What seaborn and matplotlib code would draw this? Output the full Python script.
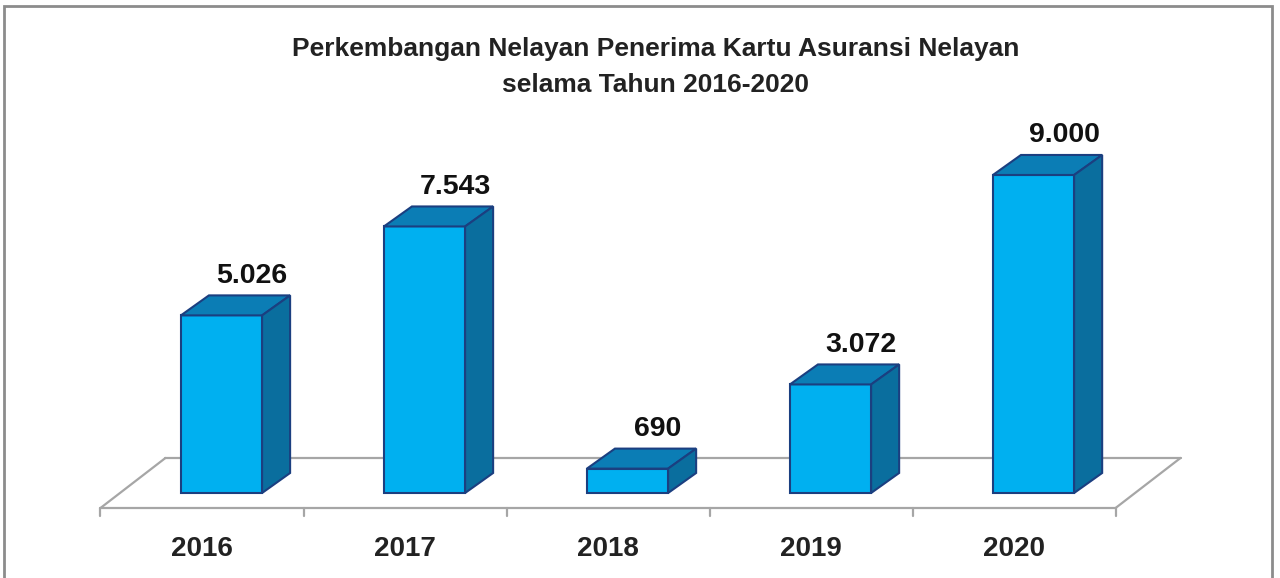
import matplotlib
matplotlib.use("Agg")
import matplotlib.pyplot as plt
from matplotlib.patches import Polygon, Rectangle
import seaborn as sns
import pandas as pd
import numpy as np

sns.set_theme(style="white")
plt.rcParams['font.family'] = ['Liberation Sans', 'DejaVu Sans']

# data
years = ["2016", "2017", "2018", "2019", "2020"]
values = [5026, 7543, 690, 3072, 9000]
labels = ["5.026", "7.543", "690", "3.072", "9.000"]

df = pd.DataFrame({"Tahun": years, "Jumlah": values})

# 3d look (in data units)
bar_w = 0.40
dx, dy = 0.138, 566          # bar depth
fdx, fdy = 0.32, 1416        # floor depth
front_y = -425               # floor front edge
front_dx = -0.096

front_col = "#00B0F0"
side_col = "#0A6E9E"
top_col = "#0B7DB5"
edge_col = "#1B3F80"

fig = plt.figure(figsize=(12.8, 5.78), dpi=100)
ax = fig.add_axes([0, 0, 1, 1])

n = len(years)
# floor
xl = -0.5 + front_dx
xr = n - 0.5 + front_dx
floor_kw = dict(color="#A6A6A6", lw=1.6, zorder=1)
ax.plot([xl, xr], [front_y, front_y], **floor_kw)
ax.plot([xl + fdx, xr + fdx], [front_y + fdy, front_y + fdy], **floor_kw)
ax.plot([xl, xl + fdx], [front_y, front_y + fdy], **floor_kw)
ax.plot([xr, xr + fdx], [front_y, front_y + fdy], **floor_kw)
for k in range(n + 1):
    tx = xl + k
    ax.plot([tx, tx], [front_y, front_y - 230], **floor_kw)

# front faces
sns.barplot(data=df, x="Tahun", y="Jumlah", color=front_col, width=bar_w,
            edgecolor=edge_col, linewidth=1.5, saturation=1, ax=ax, zorder=3)
ax.set_xlim(-1.091, 5.214)
ax.set_ylim(-2406, 13952)
ax.axis("off")

for i, v in enumerate(values):
    x0, x1 = i - bar_w / 2, i + bar_w / 2
    top = Polygon([(x0, v), (x1, v), (x1 + dx, v + dy), (x0 + dx, v + dy)],
                  closed=True, facecolor=top_col, edgecolor=edge_col, lw=1.5, zorder=3)
    side = Polygon([(x1, 0), (x1 + dx, dy), (x1 + dx, v + dy), (x1, v)],
                   closed=True, facecolor=side_col, edgecolor=edge_col, lw=1.5, zorder=3)
    ax.add_patch(top)
    ax.add_patch(side)
    ax.text(i + 0.15, v + dy + 560, labels[i], ha="center", va="center",
            fontsize=20.5, fontweight="bold", color="#111111", zorder=4)
    ax.text(i + front_dx, front_y - 1150, years[i], ha="center", va="center",
            fontsize=20, fontweight="bold", color="#222222")

fig.text(0.512, 0.915, "Perkembangan Nelayan Penerima Kartu Asuransi Nelayan",
         ha="center", va="center", fontsize=19, fontweight="bold", color="#222222")
fig.text(0.512, 0.853, "selama Tahun 2016-2020",
         ha="center", va="center", fontsize=19, fontweight="bold", color="#222222")

# outer frame
fig.patches.append(Rectangle((0.003, -0.01), 0.991, 0.999, transform=fig.transFigure,
                             fill=False, edgecolor="#8C8C8C", lw=2))

fig.savefig("out.png", dpi=100)
